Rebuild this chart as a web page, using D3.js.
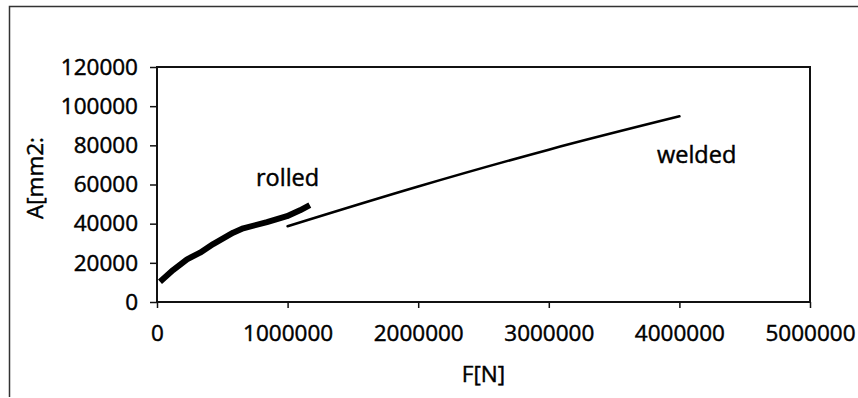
<html lang="en">
  <head>
    <meta charset="UTF-8" />
    <title>A vs F</title>
    <style>
      body { margin: 0; background: #fff; }
      text { font-family: "Open Sans", sans-serif; fill: #000; stroke: #000; stroke-width: 0.45px; }
    </style>
  </head>
  <body>
    <script src="https://cdn.jsdelivr.net/npm/d3@7"></script>
    <script>
      // values
      const rolledF = [23000, 123000, 230000, 330000, 430000, 583000, 660000, 842000, 995000, 1095000, 1170000];
      const rolledA = [10400, 16300, 21800, 25200, 29600, 35400, 37600, 40800, 43800, 46800, 49500];
      const weldedF = [1000000, 2000000, 3000000, 4000000];
      const weldedA = [38700, 59000, 77800, 94800];
      const xTicks = [0, 1000000, 2000000, 3000000, 4000000, 5000000];
      const yTicks = [0, 20000, 40000, 60000, 80000, 100000, 120000];

      let width = 858;
      let height = 398;
      let margin = { left: 157, right: 48, top: 67, bottom: 96 };

      let svg = d3.select("body")
          .append("svg")
          .attr("width", width)
          .attr("height", height);

      // outer chart frame (only top and left edges visible in the scan)
      svg.append("path")
          .attr("d", "M9.5,397 V6.5 H858")
          .style("fill", "none")
          .style("stroke", "#333")
          .style("stroke-width", 1.5);

      const x = d3.scaleLinear().domain([0, 5000000]).range([margin.left, width - margin.right]);
      const y = d3.scaleLinear().domain([0, 120000]).range([height - margin.bottom, margin.top]);

      // plot box
      svg.append("rect")
          .attr("x", x(0))
          .attr("y", y(120000))
          .attr("width", x(5000000) - x(0))
          .attr("height", y(0) - y(120000))
          .style("fill", "none")
          .style("stroke", "#111")
          .style("stroke-width", 2);

      const xAxis = svg.append("g")
          .attr("transform", `translate(0,${y(0)})`)
          .call(d3.axisBottom(x).tickValues(xTicks).tickFormat(d3.format("d")).tickSize(6).tickPadding(17));
      const yAxis = svg.append("g")
          .attr("transform", `translate(${x(0)},0)`)
          .call(d3.axisLeft(y).tickValues(yTicks).tickFormat(d3.format("d")).tickSize(7).tickPadding(12));

      [xAxis, yAxis].forEach(g => {
        g.select(".domain").remove();
        g.selectAll(".tick line").style("stroke", "#111").style("stroke-width", 1.5);
        g.selectAll(".tick text")
            .style("font-family", "'Open Sans', sans-serif")
            .style("font-size", "22.5px")
            .style("fill", "#000")
            .style("stroke", "#000")
            .style("stroke-width", "0.45px");
      });

      const line = d3.line().x(d => x(d[0])).y(d => y(d[1]));

      svg.append("path")
          .datum(d3.zip(rolledF, rolledA))
          .attr("d", line.curve(d3.curveLinear))
          .style("fill", "none")
          .style("stroke", "#000")
          .style("stroke-width", 6)
          .style("stroke-linejoin", "round");

      svg.append("path")
          .datum(d3.zip(weldedF, weldedA))
          .attr("d", line.curve(d3.curveMonotoneX))
          .style("fill", "none")
          .style("stroke", "#000")
          .style("stroke-width", 2.6)
          .style("stroke-linecap", "round");

      svg.append("text")
          .attr("x", 256)
          .attr("y", 186)
          .style("font-size", "23.5px")
          .text("rolled");

      svg.append("text")
          .attr("x", 657)
          .attr("y", 163)
          .style("font-size", "23.5px")
          .text("welded");

      svg.append("text")
          .attr("x", (x(0) + x(5000000)) / 2)
          .attr("y", 382)
          .attr("text-anchor", "middle")
          .style("font-size", "22.5px")
          .text("F[N]");

      svg.append("text")
          .attr("transform", "translate(43,178) rotate(-90)")
          .attr("text-anchor", "middle")
          .style("font-size", "22.5px")
          .text("A[mm2:");
    </script>
  </body>
</html>
